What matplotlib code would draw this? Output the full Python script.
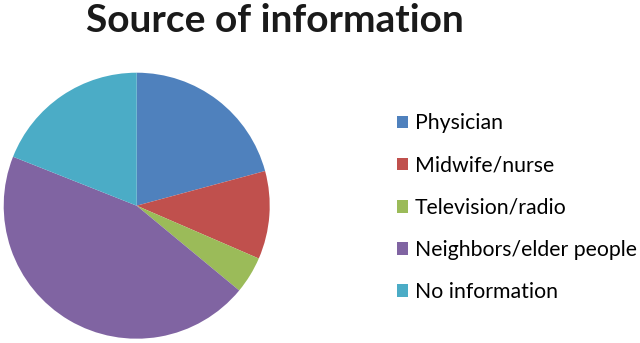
import matplotlib.pyplot as plt
from matplotlib.patches import Patch

# data (percent)
labels = ['Physician', 'Midwife/nurse', 'Television/radio', 'Neighbors/elder people', 'No information']
values = [20.8, 10.7, 4.5, 45.0, 19.0]
colors = ['#4F81BD', '#C0504D', '#9BBB59', '#8064A2', '#4BACC6']

fig = plt.figure(figsize=(6.4, 3.43), dpi=100)

ax = fig.add_axes([3.7/640, 4.3/343, 266/640, 266/343])
ax.pie(values, colors=colors, startangle=90, counterclock=False,
       wedgeprops={'linewidth': 0})
ax.set_xlim(-1, 1)
ax.set_ylim(-1, 1)
ax.set_aspect('equal')

fig.text(0.43, 0.94, 'Source of information', ha='center', va='center',
         fontsize=28, fontweight='bold', family='Lato', color='#1a1a1a')

handles = [Patch(facecolor=c, edgecolor='none') for c in colors]
fig.legend(handles, labels, loc='upper left', bbox_to_anchor=(0.59, 0.725),
           frameon=False, handlelength=0.55, handleheight=0.55,
           handletextpad=0.3, labelspacing=1.04, prop={'family': 'Lato', 'size': 15.3})

plt.savefig('out.png', dpi=100)
